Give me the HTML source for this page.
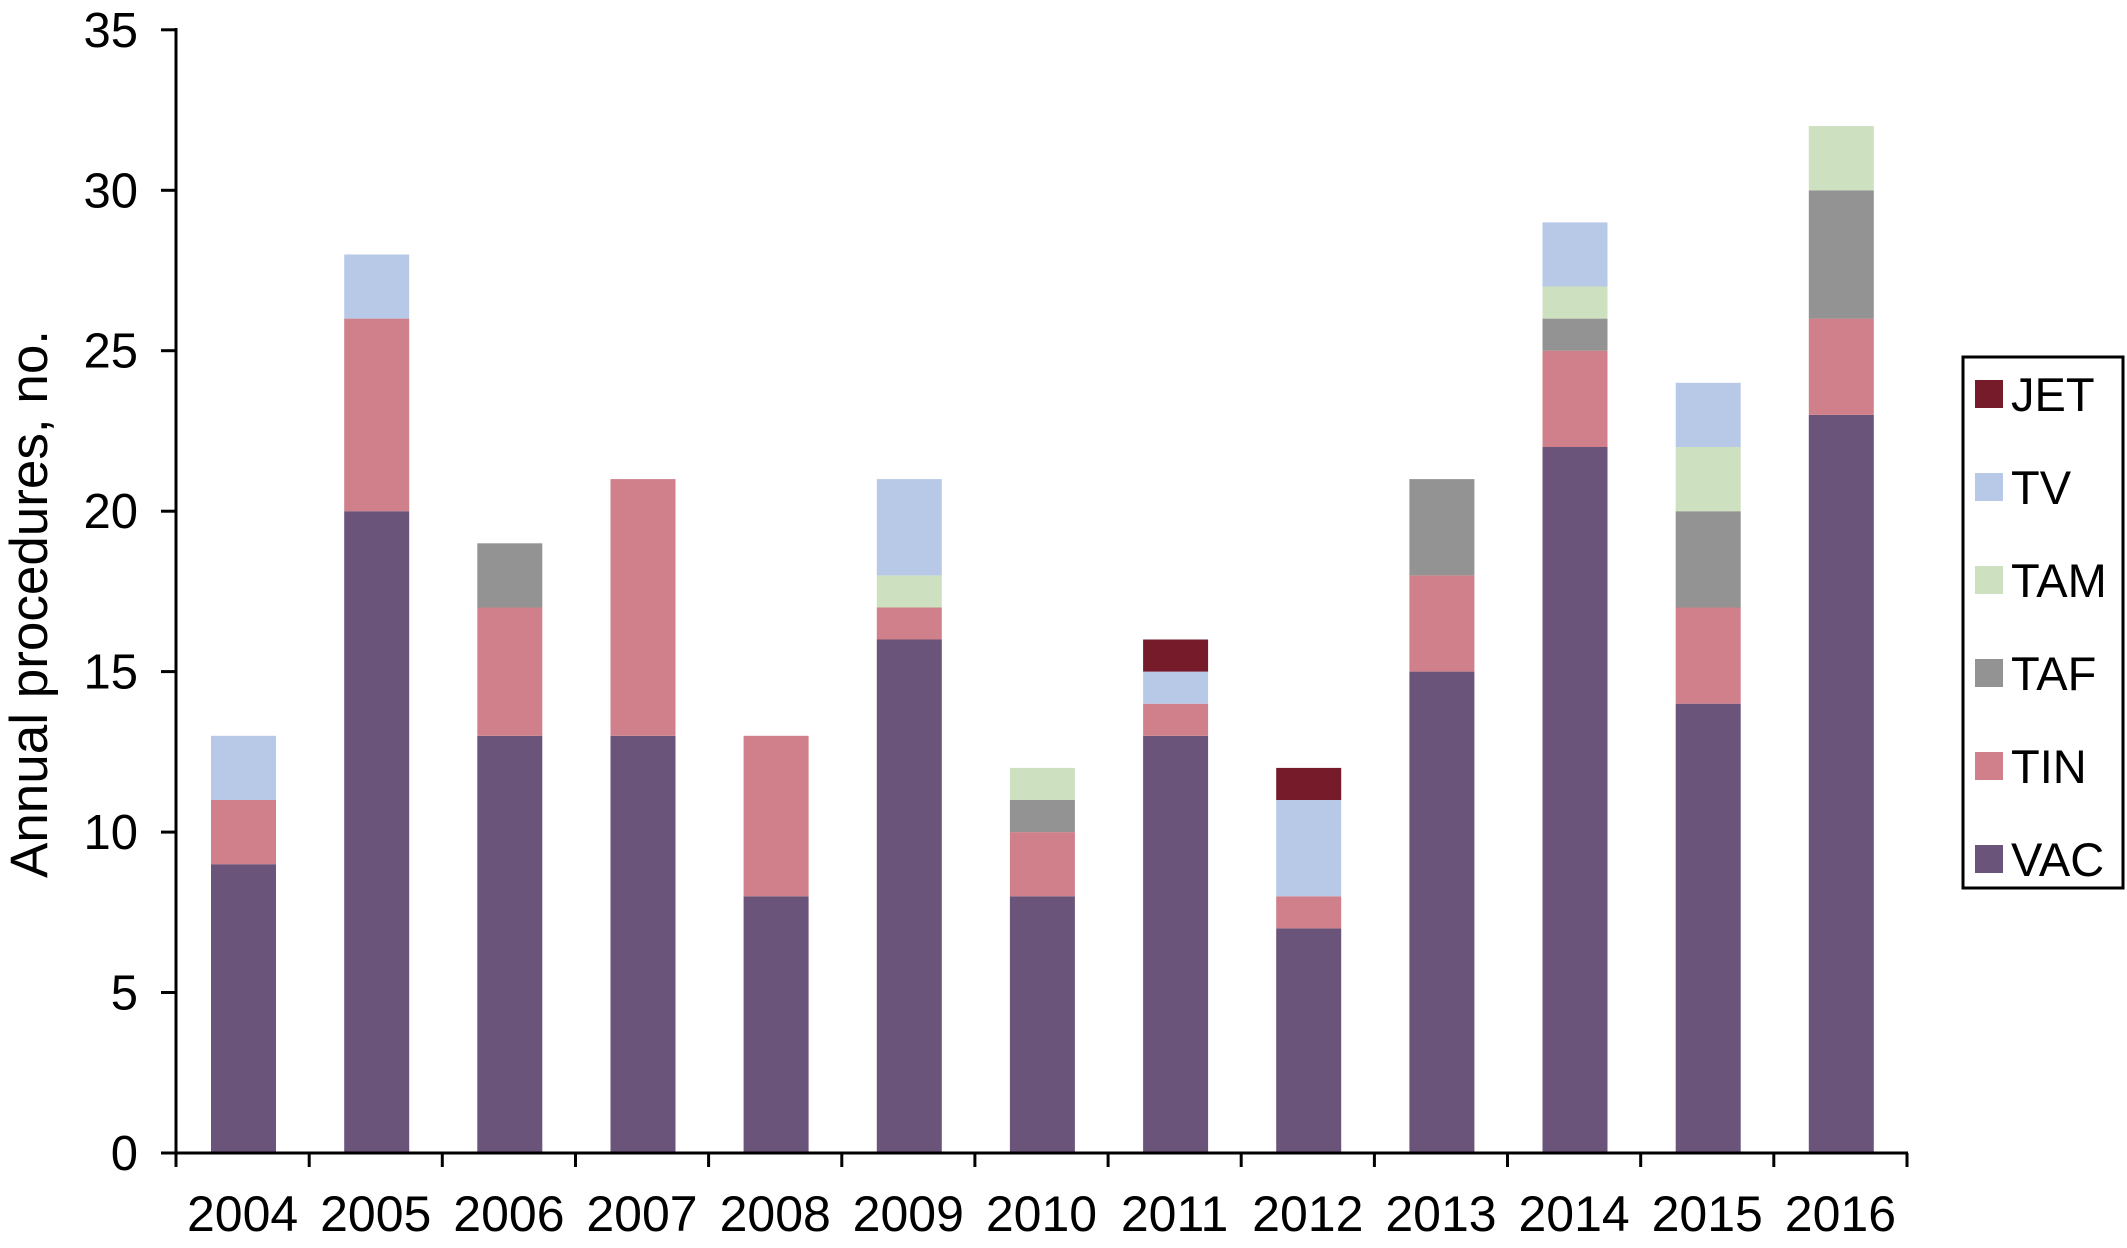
<!DOCTYPE html>
<html><head><meta charset="utf-8"><style>html,body{margin:0;padding:0;background:#fff}</style></head>
<body>
<svg width="2127" height="1243" viewBox="0 0 2127 1243" xmlns="http://www.w3.org/2000/svg" font-family="Liberation Sans, Arial, sans-serif">
<rect width="2127" height="1243" fill="#fff"/>
<g>
<rect x="211" y="864.2" width="65" height="288.8" fill="#6a5479"/>
<rect x="211" y="800.0" width="65" height="64.2" fill="#d0808a"/>
<rect x="211" y="735.8" width="65" height="64.2" fill="#b8c9e8"/>
<rect x="344.2" y="511.2" width="65" height="641.8" fill="#6a5479"/>
<rect x="344.2" y="318.6" width="65" height="192.6" fill="#d0808a"/>
<rect x="344.2" y="254.5" width="65" height="64.1" fill="#b8c9e8"/>
<rect x="477.3" y="735.8" width="65" height="417.2" fill="#6a5479"/>
<rect x="477.3" y="607.5" width="65" height="128.3" fill="#d0808a"/>
<rect x="477.3" y="543.3" width="65" height="64.2" fill="#939393"/>
<rect x="610.5" y="735.8" width="65" height="417.2" fill="#6a5479"/>
<rect x="610.5" y="479.1" width="65" height="256.7" fill="#d0808a"/>
<rect x="743.6" y="896.3" width="65" height="256.7" fill="#6a5479"/>
<rect x="743.6" y="735.8" width="65" height="160.5" fill="#d0808a"/>
<rect x="876.8" y="639.5" width="65" height="513.5" fill="#6a5479"/>
<rect x="876.8" y="607.5" width="65" height="32" fill="#d0808a"/>
<rect x="876.8" y="575.4" width="65" height="32.1" fill="#cde0bf"/>
<rect x="876.8" y="479.1" width="65" height="96.3" fill="#b8c9e8"/>
<rect x="1009.9" y="896.3" width="65" height="256.7" fill="#6a5479"/>
<rect x="1009.9" y="832.1" width="65" height="64.2" fill="#d0808a"/>
<rect x="1009.9" y="800.0" width="65" height="32.1" fill="#939393"/>
<rect x="1009.9" y="767.9" width="65" height="32.1" fill="#cde0bf"/>
<rect x="1143.1" y="735.8" width="65" height="417.2" fill="#6a5479"/>
<rect x="1143.1" y="703.7" width="65" height="32.1" fill="#d0808a"/>
<rect x="1143.1" y="671.6" width="65" height="32.1" fill="#b8c9e8"/>
<rect x="1143.1" y="639.5" width="65" height="32.1" fill="#761b29"/>
<rect x="1276.2" y="928.4" width="65" height="224.6" fill="#6a5479"/>
<rect x="1276.2" y="896.3" width="65" height="32.1" fill="#d0808a"/>
<rect x="1276.2" y="800.0" width="65" height="96.3" fill="#b8c9e8"/>
<rect x="1276.2" y="767.9" width="65" height="32.1" fill="#761b29"/>
<rect x="1409.4" y="671.6" width="65" height="481.4" fill="#6a5479"/>
<rect x="1409.4" y="575.4" width="65" height="96.2" fill="#d0808a"/>
<rect x="1409.4" y="479.1" width="65" height="96.3" fill="#939393"/>
<rect x="1542.5" y="447.0" width="65" height="706" fill="#6a5479"/>
<rect x="1542.5" y="350.7" width="65" height="96.3" fill="#d0808a"/>
<rect x="1542.5" y="318.6" width="65" height="32.1" fill="#939393"/>
<rect x="1542.5" y="286.5" width="65" height="32.1" fill="#cde0bf"/>
<rect x="1542.5" y="222.4" width="65" height="64.1" fill="#b8c9e8"/>
<rect x="1675.7" y="703.7" width="65" height="449.3" fill="#6a5479"/>
<rect x="1675.7" y="607.5" width="65" height="96.2" fill="#d0808a"/>
<rect x="1675.7" y="511.2" width="65" height="96.3" fill="#939393"/>
<rect x="1675.7" y="447.0" width="65" height="64.2" fill="#cde0bf"/>
<rect x="1675.7" y="382.8" width="65" height="64.2" fill="#b8c9e8"/>
<rect x="1808.8" y="414.9" width="65" height="738.1" fill="#6a5479"/>
<rect x="1808.8" y="318.6" width="65" height="96.3" fill="#d0808a"/>
<rect x="1808.8" y="190.3" width="65" height="128.3" fill="#939393"/>
<rect x="1808.8" y="126.1" width="65" height="64.2" fill="#cde0bf"/>
</g>
<g stroke="#000" stroke-width="3">
<line x1="176" y1="28" x2="176" y2="1154.5"/>
<line x1="174.5" y1="1153" x2="1908" y2="1153"/>
<line x1="161" y1="1153" x2="176" y2="1153"/>
<line x1="161" y1="992.5" x2="176" y2="992.5"/>
<line x1="161" y1="832.1" x2="176" y2="832.1"/>
<line x1="161" y1="671.6" x2="176" y2="671.6"/>
<line x1="161" y1="511.2" x2="176" y2="511.2"/>
<line x1="161" y1="350.7" x2="176" y2="350.7"/>
<line x1="161" y1="190.3" x2="176" y2="190.3"/>
<line x1="161" y1="29.8" x2="176" y2="29.8"/>
<line x1="176" y1="1153" x2="176" y2="1167"/>
<line x1="309.2" y1="1153" x2="309.2" y2="1167"/>
<line x1="442.3" y1="1153" x2="442.3" y2="1167"/>
<line x1="575.5" y1="1153" x2="575.5" y2="1167"/>
<line x1="708.6" y1="1153" x2="708.6" y2="1167"/>
<line x1="841.8" y1="1153" x2="841.8" y2="1167"/>
<line x1="974.9" y1="1153" x2="974.9" y2="1167"/>
<line x1="1108.1" y1="1153" x2="1108.1" y2="1167"/>
<line x1="1241.2" y1="1153" x2="1241.2" y2="1167"/>
<line x1="1374.4" y1="1153" x2="1374.4" y2="1167"/>
<line x1="1507.5" y1="1153" x2="1507.5" y2="1167"/>
<line x1="1640.7" y1="1153" x2="1640.7" y2="1167"/>
<line x1="1773.8" y1="1153" x2="1773.8" y2="1167"/>
<line x1="1907" y1="1153" x2="1907" y2="1167"/>
</g>
<g font-size="49" text-anchor="end" fill="#000">
<text x="138" y="1170">0</text>
<text x="138" y="1009.5">5</text>
<text x="138" y="849.1">10</text>
<text x="138" y="688.6">15</text>
<text x="138" y="528.2">20</text>
<text x="138" y="367.7">25</text>
<text x="138" y="207.3">30</text>
<text x="138" y="46.8">35</text>
</g>
<g font-size="50" text-anchor="middle" fill="#000">
<text x="242.6" y="1231">2004</text>
<text x="375.7" y="1231">2005</text>
<text x="508.9" y="1231">2006</text>
<text x="642.0" y="1231">2007</text>
<text x="775.2" y="1231">2008</text>
<text x="908.3" y="1231">2009</text>
<text x="1041.5" y="1231">2010</text>
<text x="1174.6" y="1231">2011</text>
<text x="1307.8" y="1231">2012</text>
<text x="1441.0" y="1231">2013</text>
<text x="1574.1" y="1231">2014</text>
<text x="1707.2" y="1231">2015</text>
<text x="1840.4" y="1231">2016</text>
</g>
<text transform="translate(47,604) rotate(-90)" font-size="53" text-anchor="middle" fill="#000">Annual procedures, no.</text>
<rect x="1963" y="357" width="160" height="531" fill="#fff" stroke="#000" stroke-width="3"/>
<rect x="1975" y="380" width="28" height="28" fill="#761b29"/>
<rect x="1975" y="473" width="28" height="28" fill="#b8c9e8"/>
<rect x="1975" y="566" width="28" height="28" fill="#cde0bf"/>
<rect x="1975" y="659" width="28" height="28" fill="#939393"/>
<rect x="1975" y="752" width="28" height="28" fill="#d0808a"/>
<rect x="1975" y="845" width="28" height="28" fill="#6a5479"/>
<g font-size="47" fill="#000">
<text x="2011" y="411">JET</text>
<text x="2011" y="504">TV</text>
<text x="2011" y="597">TAM</text>
<text x="2011" y="690">TAF</text>
<text x="2011" y="783">TIN</text>
<text x="2011" y="876">VAC</text>
</g>
</svg>
</body></html>
